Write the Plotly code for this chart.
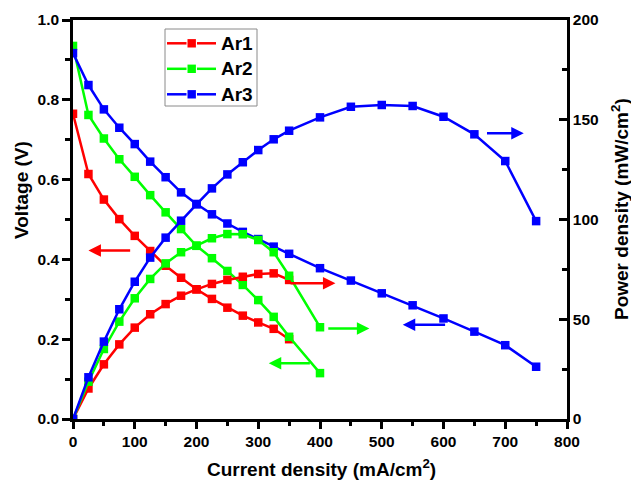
import plotly.graph_objects as go

# Current density (mA/cm2)
current_ar1 = [0, 25, 50, 75, 100, 125, 150, 175, 200, 225, 250, 275, 300, 325, 350]
current_ar2 = [0, 25, 50, 75, 100, 125, 150, 175, 200, 225, 250, 275, 300, 325, 350, 400]
current_ar3 = [0, 25, 50, 75, 100, 125, 150, 175, 200, 225, 250, 275, 300, 325, 350,
               400, 450, 500, 550, 600, 650, 700, 750]

# Cell voltage (V)
voltage_ar1 = [0.765, 0.614, 0.550, 0.501, 0.459, 0.421, 0.384, 0.354, 0.325, 0.301,
               0.279, 0.259, 0.242, 0.226, 0.200]
voltage_ar2 = [0.935, 0.762, 0.703, 0.651, 0.607, 0.561, 0.518, 0.476, 0.434, 0.403,
               0.371, 0.336, 0.298, 0.256, 0.206, 0.115]
voltage_ar3 = [0.917, 0.837, 0.776, 0.730, 0.689, 0.645, 0.606, 0.568, 0.539, 0.513,
               0.490, 0.469, 0.451, 0.432, 0.414, 0.378, 0.347, 0.315, 0.285, 0.252,
               0.219, 0.185, 0.131]

# Power density (mW/cm2)
power_ar1 = [0, 15.3, 27.4, 37.4, 45.8, 52.5, 57.6, 61.8, 65.0, 67.7, 69.7, 71.3, 72.7,
             73.0, 69.7]
power_ar2 = [0, 18.7, 35.1, 48.8, 60.5, 70.2, 78.0, 83.6, 86.9, 90.6, 92.7, 92.6, 89.7,
             83.6, 71.8, 46.0]
power_ar3 = [0, 20.9, 38.8, 55.0, 68.8, 80.9, 90.9, 99.4, 107.6, 115.6, 122.6, 128.7,
             134.8, 140.2, 144.5, 151.2, 156.5, 157.4, 156.9, 151.5, 142.7, 129.3, 99.2]

series_names = ["Ar1", "Ar2", "Ar3"]
series_colors = ["#FF0000", "#00FF00", "#0000FF"]

W, H = 631, 484
M_L, M_R, M_T, M_B = 73, 64, 20, 65
PLOT_W = W - M_L - M_R
PLOT_H = H - M_T - M_B


def paper_x(px):
    """Pixel column -> paper coordinate."""
    return (px - M_L) / PLOT_W


def paper_y(py):
    """Pixel row (from top) -> paper coordinate."""
    return (H - M_B - py) / PLOT_H


FONT = "Liberation Sans, Arial, sans-serif"
LINE_W = 2.5
MARKER_SIZE = 8.5

fig = go.Figure()

for name, color, cur, volt in zip(series_names, series_colors,
                                  [current_ar1, current_ar2, current_ar3],
                                  [voltage_ar1, voltage_ar2, voltage_ar3]):
    fig.add_trace(go.Scatter(
        x=cur, y=volt, name=name, showlegend=False, mode="lines+markers",
        line=dict(color=color, width=LINE_W),
        marker=dict(symbol="square", size=MARKER_SIZE, color=color),
        yaxis="y",
    ))

for name, color, cur, pw in zip(series_names, series_colors,
                                [current_ar1, current_ar2, current_ar3],
                                [power_ar1, power_ar2, power_ar3]):
    fig.add_trace(go.Scatter(
        x=cur, y=pw, name=name, showlegend=False, mode="lines+markers",
        line=dict(color=color, width=LINE_W),
        marker=dict(symbol="square", size=MARKER_SIZE, color=color),
        yaxis="y2",
    ))

# Arrows pointing each curve to the axis it is read against
arrows = [
    # (tip_x, tip_y, tail_x, tail_y, color) in current / voltage units
    (25, 0.422, 95, 0.422, "#FF0000"),
    (425, 0.340, 350, 0.340, "#FF0000"),
    (480, 0.227, 411, 0.227, "#00FF00"),
    (317, 0.140, 386, 0.140, "#00FF00"),
    (534, 0.236, 605, 0.236, "#0000FF"),
    (730, 0.716, 668, 0.716, "#0000FF"),
]
for tx, ty, sx, sy, c in arrows:
    fig.add_annotation(
        x=tx, y=ty, ax=sx, ay=sy, xref="x", yref="y", axref="x", ayref="y",
        text="", showarrow=True, arrowhead=2, arrowsize=1.0, arrowwidth=LINE_W,
        arrowcolor=c,
    )

# Legend box drawn by hand: line - square - line, then the label
shapes = [dict(type="rect", xref="paper", yref="paper",
               x0=paper_x(165), x1=paper_x(257), y0=paper_y(106), y1=paper_y(29),
               line=dict(color="#8a8a8a", width=1), fillcolor="rgba(0,0,0,0)")]
for i, (name, color) in enumerate(zip(series_names, series_colors)):
    yc = 43.3 + 25.5 * i
    for x0, x1 in [(167, 186.5), (197, 216)]:
        shapes.append(dict(type="line", xref="paper", yref="paper",
                           x0=paper_x(x0), x1=paper_x(x1),
                           y0=paper_y(yc), y1=paper_y(yc),
                           line=dict(color=color, width=LINE_W)))
    half = 4.2
    shapes.append(dict(type="rect", xref="paper", yref="paper",
                       x0=paper_x(191.7 - half), x1=paper_x(191.7 + half),
                       y0=paper_y(yc + half), y1=paper_y(yc - half),
                       line=dict(width=0), fillcolor=color))
    fig.add_annotation(
        x=paper_x(219), y=paper_y(yc), xref="paper", yref="paper",
        text=f"<b>{name}</b>", showarrow=False, xanchor="left", yanchor="middle",
        font=dict(family=FONT, size=19, color="#000000"),
    )

tick_font = dict(family=FONT, size=15.5, color="#000000")
title_font = dict(family=FONT, size=19, color="#000000")

fig.add_annotation(
    x=paper_x(21), y=paper_y(190), xref="paper", yref="paper",
    text="<b>Voltage (V)</b>",
    textangle=-90, showarrow=False, font=title_font, xanchor="center", yanchor="middle",
)
fig.add_annotation(
    x=paper_x(620), y=paper_y(209), xref="paper", yref="paper",
    text="<b>Power density (mW/cm<sup>2</sup>)</b>",
    textangle=-90, showarrow=False, font=title_font, xanchor="center", yanchor="middle",
)
fig.add_annotation(
    x=paper_x(321), y=paper_y(468), xref="paper", yref="paper",
    text="<b>Current density (mA/cm<sup>2</sup>)</b>",
    showarrow=False, font=title_font, xanchor="center", yanchor="middle",
)

fig.update_layout(
    width=W, height=H,
    margin=dict(l=M_L, r=M_R, t=M_T, b=M_B),
    paper_bgcolor="white", plot_bgcolor="white",
    font=dict(family=FONT, color="#000000"),
    showlegend=False,
    shapes=shapes,
    xaxis=dict(
        range=[0, 800], dtick=100, tick0=0,
        showgrid=False, zeroline=False,
        showline=True, linecolor="black", linewidth=LINE_W, mirror=True,
        ticks="outside", ticklen=7, tickwidth=LINE_W, tickcolor="black",
        minor=dict(dtick=50, ticks="outside", ticklen=4, tickwidth=LINE_W, tickcolor="black"),
        tickfont=tick_font,
        tickprefix="<b>", ticksuffix="</b>",
    ),
    yaxis=dict(
        range=[0, 1.0], dtick=0.2, tick0=0, tickformat=".1f",
        showgrid=False, zeroline=False,
        showline=True, linecolor="black", linewidth=LINE_W,
        ticks="outside", ticklen=8, tickwidth=LINE_W, tickcolor="black",
        minor=dict(dtick=0.1, ticks="outside", ticklen=5, tickwidth=LINE_W, tickcolor="black"),
        tickfont=tick_font,
        tickprefix="<b>", ticksuffix="</b>",
    ),
    yaxis2=dict(
        range=[0, 200], dtick=50, tick0=0, overlaying="y", side="right",
        showgrid=False, zeroline=False,
        showline=True, linecolor="black", linewidth=LINE_W,
        ticks="inside", ticklen=8, tickwidth=LINE_W, tickcolor="black",
        minor=dict(dtick=25, ticks="inside", ticklen=5, tickwidth=LINE_W, tickcolor="black"),
        tickfont=tick_font,
        tickprefix="<b>", ticksuffix="</b>",
    ),
)

fig.write_html("out.html")
